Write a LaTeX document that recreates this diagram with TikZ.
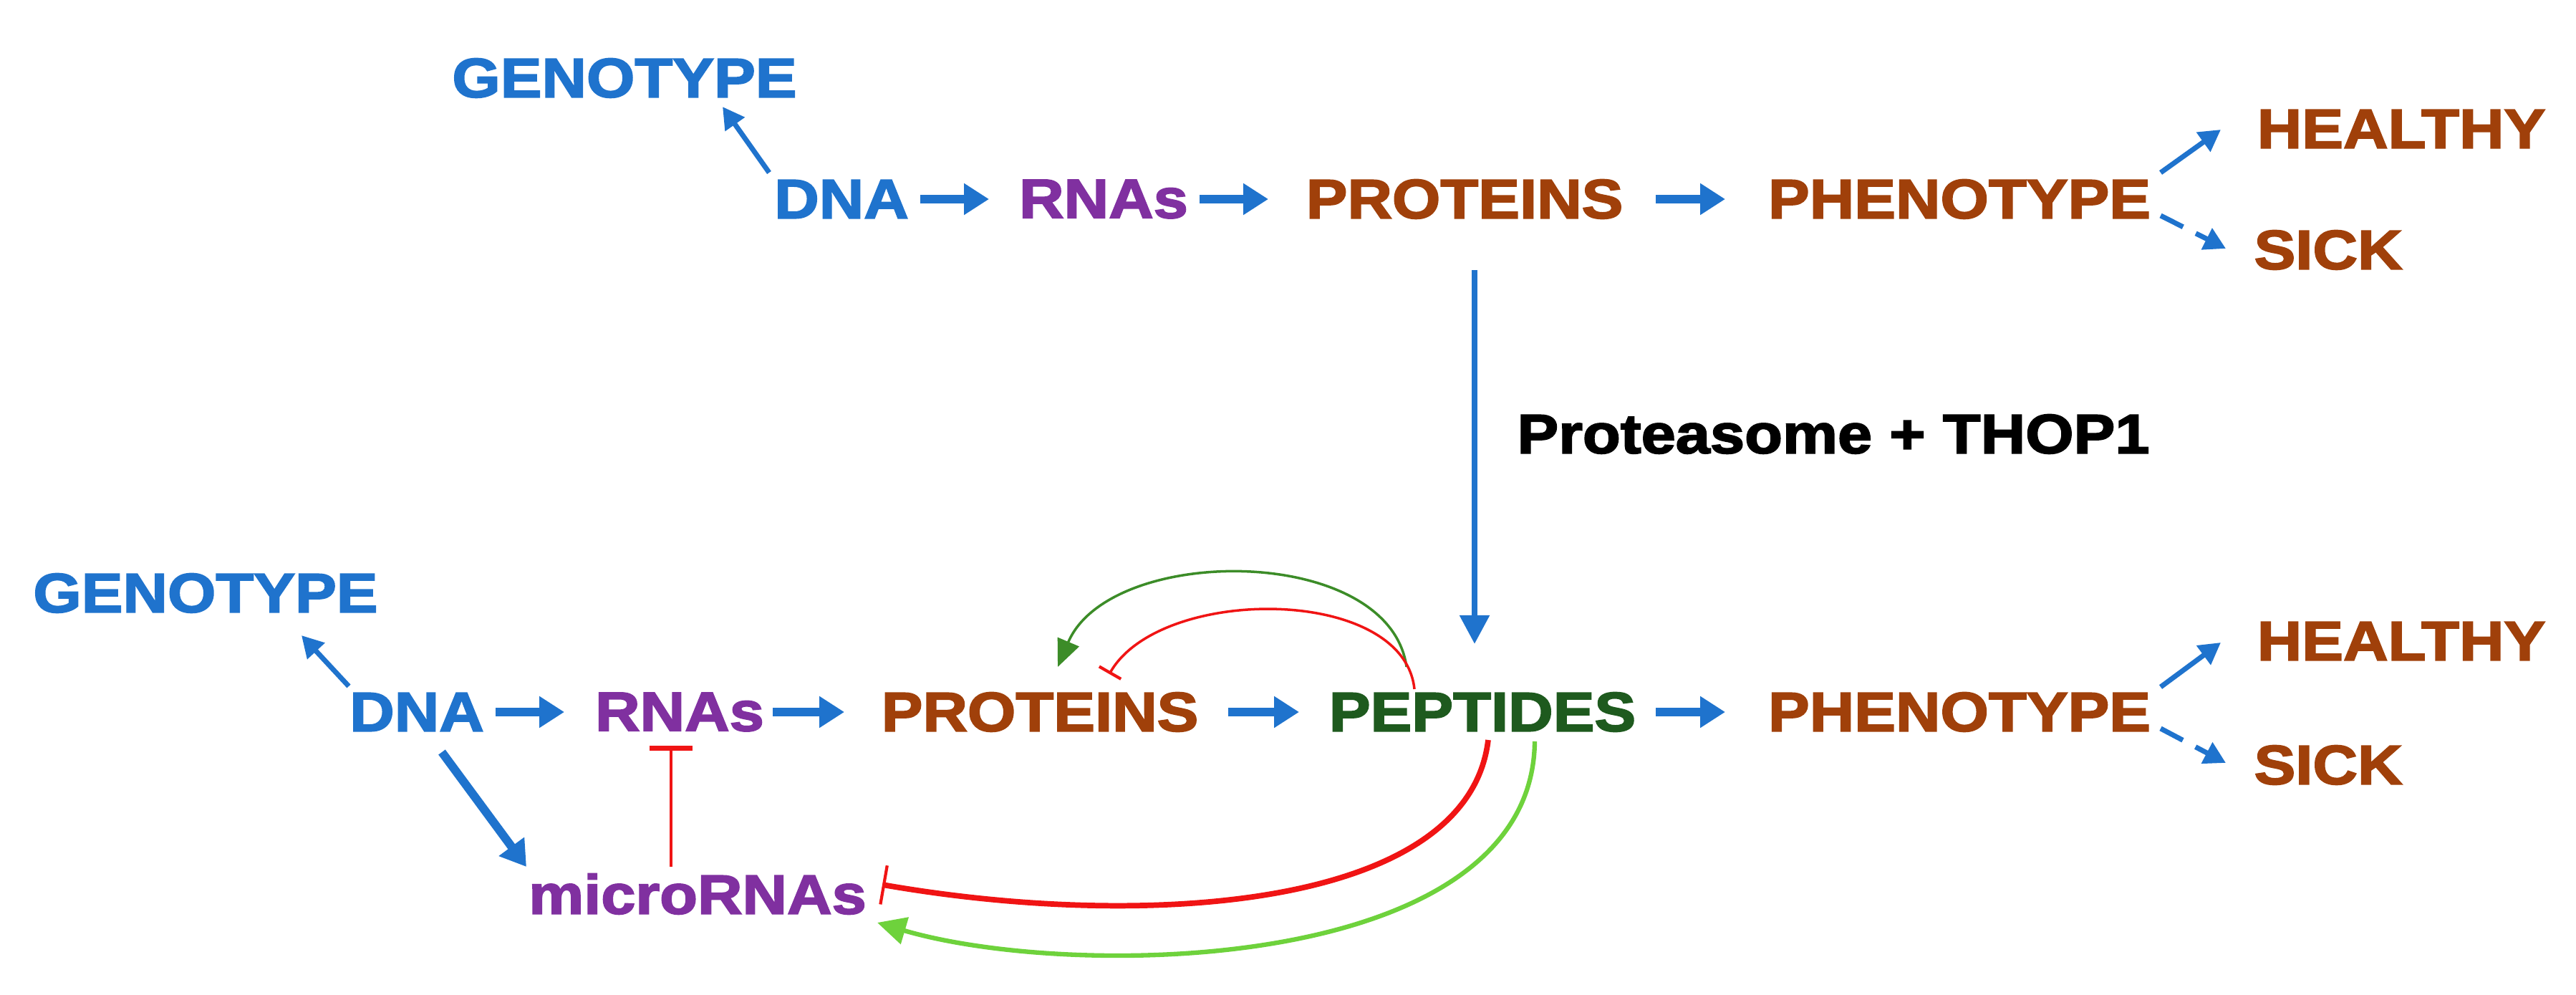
\documentclass[tikz,border=0pt]{standalone}
\usepackage{fontspec}
\setmainfont{Liberation Sans}[FakeBold=2.5,FakeStretch=1.12]
\usetikzlibrary{arrows.meta,calc}
\definecolor{cblue}{RGB}{31,115,205}
\definecolor{cpurple}{RGB}{128,48,160}
\definecolor{cbrown}{RGB}{160,64,10}
\definecolor{cdgreen}{RGB}{30,90,30}
\definecolor{cgreen}{RGB}{60,140,40}
\definecolor{clgreen}{RGB}{110,210,60}
\definecolor{cred}{RGB}{240,20,20}
\begin{document}
\begin{tikzpicture}[
  lbl/.style={font=\fontsize{22}{26}\selectfont\bfseries, inner sep=0.12cm},
  blu/.style={lbl,text=cblue}, pur/.style={lbl,text=cpurple},
  brn/.style={lbl,text=cbrown}, grn/.style={lbl,text=cdgreen},
  flow/.style={cblue,line width=3.4pt,-{Triangle[length=0.35cm,width=0.42cm]}},
  thinflow/.style={cblue,line width=2pt,-{Triangle[length=0.3cm,width=0.32cm]}}
]
\useasboundingbox (0,0) rectangle (35.97,13.89);
% top row
\node[blu] (g1) at (8.72,12.80) {GENOTYPE};
\node[blu] (d1) at (11.75,11.11) {DNA};
\node[pur] (r1) at (15.41,11.11) {RNAs};
\node[brn] (p1) at (20.45,11.11) {PROTEINS};
\node[brn] (ph1) at (27.36,11.11) {PHENOTYPE};
\node[brn] (h1) at (33.53,12.09) {HEALTHY};
\node[brn] (s1) at (32.51,10.40) {SICK};
\draw[flow] (12.85,0 |- d1) -- (13.81,0 |- r1);
\draw[flow] (16.75,0 |- r1) -- (17.71,0 |- p1);
\draw[flow] (23.12,0 |- p1) -- (24.09,0 |- ph1);
\draw[thinflow] (10.74,11.48) -- (g1.south east -| 10.09,0) ;
\draw[thinflow] (30.17,11.48) -- (31.01,12.08);
\draw[thinflow,dash pattern=on 0.35cm off 0.2cm] (30.17,10.88) -- (31.08,10.42);
% vertical
\node[lbl,text=black] (pt) at (25.6,7.83) {Proteasome + THOP1};
% bottom row
\node[blu] (g2) at (2.87,5.61) {GENOTYPE};
\node[blu] (d2) at (5.82,3.95) {DNA};
\node[pur] (r2) at (9.49,3.95) {RNAs};
\node[brn] (p2) at (14.52,3.95) {PROTEINS};
\node[grn] (pe) at (20.70,3.95) {PEPTIDES};
\node[brn] (ph2) at (27.36,3.95) {PHENOTYPE};
\node[brn] (h2) at (33.53,4.94) {HEALTHY};
\node[brn] (s2) at (32.51,3.21) {SICK};
\node[pur] (mi) at (9.74,1.41) {microRNAs};
\draw[cblue,line width=2.4pt,-{Triangle[length=0.4cm,width=0.4cm]}] (20.59,10.12) coordinate (vtop) -- (vtop |- 0,4.9);
\draw[flow] (6.92,0 |- d2) -- (7.88,0 |- r2);
\draw[flow] (10.79,0 |- r2) -- (11.79,0 |- p2);
\draw[flow] (17.15,0 |- p2) -- (18.14,0 |- pe);
\draw[flow] (23.12,0 |- pe) -- (24.09,0 |- ph2);
\draw[thinflow] (4.87,4.31) -- (4.21,5.02);
\draw[flow] (6.17,3.39) -- (7.35,1.79);
\draw[thinflow] (30.17,4.30) -- (31.01,4.92);
\draw[thinflow,dash pattern=on 0.35cm off 0.2cm] (30.17,3.72) -- (31.08,3.24);
% feedback
\draw[cred,line width=1pt,-{Bar[width=0.6cm,line width=2pt]}] (9.37,1.79) -- (9.37,3.48);
\draw[cgreen,line width=1pt,-{Triangle[length=0.38cm,width=0.32cm]}] (19.64,4.58) .. controls (19.4,6.3) and (15.5,6.3) .. (14.77,4.58);
\draw[cred,line width=1pt,-{Bar[width=0.35cm,line width=1.2pt]}] (19.75,4.27) .. controls (19.6,5.72) and (16.2,5.72) .. (15.49,4.48);
\draw[cred,line width=2.2pt,-{Bar[width=0.55cm,line width=1.2pt]}] (20.78,3.56) .. controls (20.5,1.2) and (16,0.9) .. (12.32,1.54);
\draw[clgreen,line width=1.8pt,-{Triangle[length=0.4cm,width=0.38cm]}] (21.43,3.54) .. controls (21.4,0.3) and (15,0.2) .. (12.25,1.01);
\end{tikzpicture}
\end{document}
